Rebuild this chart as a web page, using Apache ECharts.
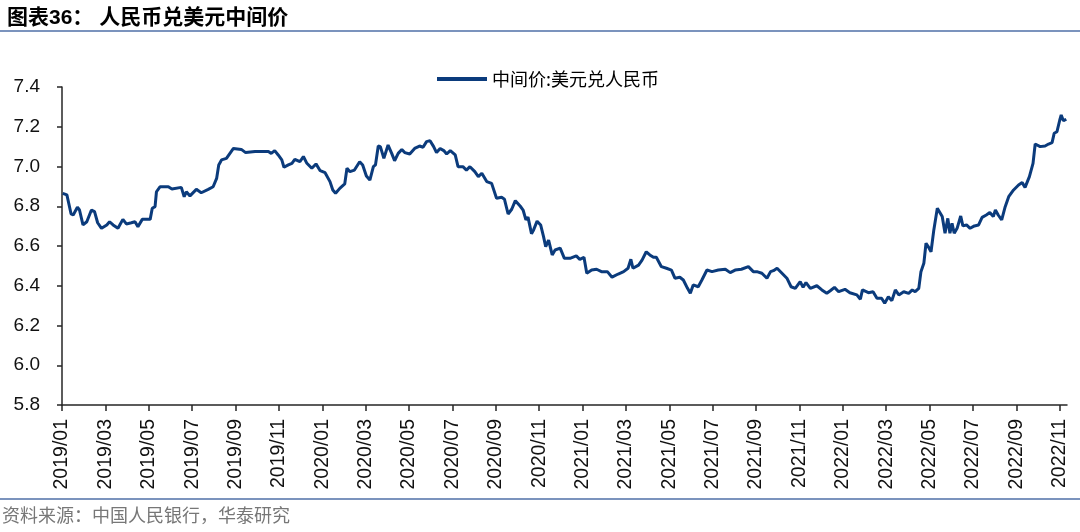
<!DOCTYPE html>
<html>
<head>
<meta charset="utf-8">
<script src="https://cdn.jsdelivr.net/npm/echarts@6/dist/echarts.min.js"></script>
<style>
html,body{margin:0;padding:0;background:#fff;}
#chart{width:1080px;height:532px;}
</style>
</head>
<body>
<div id="chart"></div>
<script>
// ---- data ----
const dates = [
'2019-01-02','2019-01-08','2019-01-10','2019-01-14','2019-01-17','2019-01-23','2019-01-26','2019-01-31',
'2019-02-05','2019-02-11','2019-02-15','2019-02-19','2019-02-24',
'2019-03-03','2019-03-07','2019-03-12','2019-03-19','2019-03-26','2019-03-31',
'2019-04-07','2019-04-12','2019-04-16','2019-04-22',
'2019-05-03','2019-05-06','2019-05-10','2019-05-12','2019-05-17','2019-05-29',
'2019-06-03','2019-06-16','2019-06-20','2019-06-23','2019-06-28',
'2019-07-07','2019-07-14','2019-07-24','2019-07-31',
'2019-08-05','2019-08-08','2019-08-12','2019-08-19','2019-08-24','2019-08-29',
'2019-09-09','2019-09-15','2019-09-28',
'2019-10-17','2019-10-21','2019-10-26','2019-10-31',
'2019-11-05','2019-11-08','2019-11-14','2019-11-19','2019-11-23','2019-11-30',
'2019-12-05','2019-12-10','2019-12-17','2019-12-23','2019-12-29',
'2020-01-05','2020-01-12','2020-01-16','2020-01-20','2020-01-26',
'2020-02-02','2020-02-05','2020-02-09','2020-02-15','2020-02-22','2020-02-26',
'2020-03-02','2020-03-07','2020-03-12','2020-03-15','2020-03-19','2020-03-22','2020-03-27',
'2020-04-02','2020-04-07','2020-04-11','2020-04-16','2020-04-21','2020-04-25',
'2020-05-02','2020-05-09','2020-05-16','2020-05-21','2020-05-26','2020-05-31',
'2020-06-05','2020-06-09','2020-06-14','2020-06-19','2020-06-23','2020-06-28',
'2020-07-05','2020-07-09','2020-07-16','2020-07-21','2020-07-26',
'2020-08-02','2020-08-07','2020-08-12','2020-08-19','2020-08-26',
'2020-09-02','2020-09-09','2020-09-13','2020-09-18','2020-09-23','2020-09-28',
'2020-10-05','2020-10-09','2020-10-13','2020-10-16','2020-10-21','2020-10-24','2020-10-29',
'2020-11-03','2020-11-07','2020-11-10','2020-11-14','2020-11-19','2020-11-23','2020-11-30',
'2020-12-06','2020-12-14','2020-12-23','2020-12-28',
'2021-01-03','2021-01-07','2021-01-14','2021-01-21','2021-01-28',
'2021-02-05','2021-02-11','2021-02-19','2021-02-26',
'2021-03-04','2021-03-08','2021-03-11','2021-03-19','2021-03-24','2021-03-30',
'2021-04-04','2021-04-09','2021-04-13','2021-04-20','2021-04-27',
'2021-05-04','2021-05-09','2021-05-16','2021-05-21','2021-05-27','2021-05-31',
'2021-06-04','2021-06-11','2021-06-16','2021-06-23','2021-06-30',
'2021-07-09','2021-07-19','2021-07-26',
'2021-08-02','2021-08-11','2021-08-21','2021-08-28',
'2021-09-02','2021-09-09','2021-09-16','2021-09-21','2021-09-25','2021-09-30',
'2021-10-07','2021-10-14','2021-10-20','2021-10-26',
'2021-11-02','2021-11-06','2021-11-10','2021-11-16','2021-11-25',
'2021-12-02','2021-12-09','2021-12-14','2021-12-20','2021-12-26',
'2022-01-04','2022-01-11','2022-01-21','2022-01-26','2022-01-29',
'2022-02-06','2022-02-12','2022-02-17','2022-02-23','2022-02-27',
'2022-03-04','2022-03-09','2022-03-14','2022-03-19','2022-03-26',
'2022-04-02','2022-04-07','2022-04-11','2022-04-16','2022-04-19','2022-04-23','2022-04-26','2022-04-29',
'2022-05-03','2022-05-07','2022-05-12','2022-05-14','2022-05-19','2022-05-23','2022-05-27','2022-05-30',
'2022-06-02','2022-06-05','2022-06-09','2022-06-14','2022-06-17','2022-06-22','2022-06-27',
'2022-07-03','2022-07-09','2022-07-14','2022-07-20','2022-07-25','2022-07-30',
'2022-08-02','2022-08-06','2022-08-11','2022-08-16','2022-08-21','2022-08-28',
'2022-09-04','2022-09-09','2022-09-13','2022-09-19','2022-09-24','2022-09-27',
'2022-10-04','2022-10-11','2022-10-16','2022-10-21','2022-10-24','2022-10-28',
'2022-11-01','2022-11-03','2022-11-06','2022-11-10'
];
const midRate = [
6.865,6.857,6.848,6.761,6.756,6.795,6.781,6.706,
6.722,6.781,6.773,6.717,6.689,
6.706,6.722,6.706,6.689,6.734,6.711,
6.717,6.722,6.697,6.734,
6.734,6.790,6.798,6.873,6.898,6.898,
6.887,6.895,6.848,6.873,6.852,
6.885,6.868,6.885,6.898,
6.940,7.008,7.033,7.041,7.066,7.091,
7.086,7.070,7.075,
7.075,7.066,7.080,7.058,
7.033,6.996,7.008,7.016,7.036,7.024,
7.050,7.016,6.991,7.013,6.979,
6.969,6.924,6.882,6.865,6.890,
6.912,6.991,6.974,6.982,7.024,7.008,
6.952,6.932,6.999,7.008,7.103,7.100,7.041,
7.108,7.066,7.029,7.066,7.086,7.070,
7.063,7.091,7.103,7.097,7.125,7.130,
7.100,7.070,7.091,7.080,7.063,7.080,
7.058,6.999,6.999,6.982,6.999,
6.974,6.949,6.966,6.924,6.915,
6.840,6.845,6.835,6.761,6.785,6.828,
6.800,6.781,6.731,6.745,6.662,6.681,6.725,
6.706,6.647,6.597,6.630,6.555,6.580,6.589,
6.538,6.538,6.550,6.533,
6.543,6.463,6.479,6.483,6.471,
6.471,6.443,6.459,6.471,
6.488,6.533,6.488,6.504,6.529,6.571,
6.555,6.543,6.543,6.496,6.488,
6.479,6.438,6.443,6.429,6.387,6.362,
6.404,6.395,6.429,6.479,6.471,
6.479,6.483,6.466,
6.479,6.483,6.496,6.471,
6.471,6.463,6.438,6.471,6.476,6.488,
6.463,6.438,6.395,6.387,
6.421,6.392,6.416,6.387,6.400,
6.379,6.362,6.375,6.392,6.370,
6.382,6.365,6.354,6.332,6.379,
6.365,6.370,6.337,6.337,6.312,
6.345,6.325,6.379,6.354,6.370,
6.362,6.379,6.370,6.387,6.471,6.513,6.614,6.597,
6.571,6.681,6.790,6.795,6.748,6.664,6.739,6.664,
6.714,6.664,6.689,6.751,6.701,6.706,6.689,
6.701,6.706,6.744,6.756,6.768,6.748,
6.781,6.756,6.731,6.798,6.848,6.882,
6.907,6.919,6.895,6.949,7.016,7.113,
7.100,7.103,7.113,7.120,7.167,7.175,
7.234,7.259,7.230,7.238
];
const seriesName = '中间价:美元兑人民币';
const yTicks = [5.8, 6.0, 6.2, 6.4, 6.6, 6.8, 7.0, 7.2, 7.4];
const xEnd = '2022-11-11';  // right end of axis
const titleText = '图表36： 人民币兑美元中间价';
const sourceText = '资料来源：中国人民银行，华泰研究';

// ---- helpers ----
function monthIndex(s) {
  const p = s.split('-').map(Number);
  const y = p[0], m = p[1], d = p[2] || 1;
  const dim = new Date(y, m, 0).getDate();
  return (y - 2019) * 12 + (m - 1) + (d - 1) / dim;
}
const seriesData = dates.map((d, i) => [monthIndex(d), midRate[i]]);
const xMax = monthIndex(xEnd);
const xTickVals = [];
for (let v = 0; v <= xMax; v += 2) xTickVals.push(v);
function monthLabel(v) {
  const y = 2019 + Math.floor(Math.round(v) / 12);
  const m = Math.round(v) % 12 + 1;
  return y + '/' + (m < 10 ? '0' + m : m);
}

const chart = echarts.init(document.getElementById('chart'), null, {renderer: 'canvas'});
chart.setOption({
  animation: false,
  backgroundColor: '#fff',
  textStyle: {fontFamily: '"Liberation Sans", Arial, "Noto Sans CJK SC", sans-serif'},
  title: {
    text: titleText,
    left: 2, top: 3,
    textStyle: {fontSize: 21, fontWeight: 'bold', color: '#000',
      fontFamily: '"Liberation Sans", "Noto Sans CJK SC", sans-serif'}
  },
  legend: {
    data: [seriesName],
    left: 432, top: 65,
    icon: 'rect', itemWidth: 50, itemHeight: 4, itemGap: 10,
    textStyle: {fontSize: 18, color: '#000', fontFamily: '"Noto Sans CJK SC", sans-serif'}
  },
  grid: {left: 62, right: 13, top: 87, bottom: 127, containLabel: false},
  xAxis: {
    type: 'value', min: 0, max: xMax,
    splitLine: {show: false},
    axisLine: {lineStyle: {color: '#262626', width: 1.5}},
    axisTick: {show: true, length: 6, customValues: xTickVals, lineStyle: {color: '#262626', width: 1.5}},
    axisLabel: {rotate: 90, margin: 14, fontSize: 19.5, color: '#111',
      customValues: xTickVals, formatter: monthLabel}
  },
  yAxis: {
    type: 'value', min: yTicks[0], max: yTicks[yTicks.length - 1], interval: 0.2,
    splitLine: {show: false},
    axisLine: {show: true, lineStyle: {color: '#262626', width: 1.5}},
    axisTick: {show: true, length: 5, lineStyle: {color: '#262626', width: 1.5}},
    axisLabel: {margin: 22, fontSize: 19, color: '#111', formatter: v => v.toFixed(1)}
  },
  graphic: [
    {type: 'line', shape: {x1: 0, y1: 31, x2: 1080, y2: 31}, style: {stroke: '#7b93bd', lineWidth: 2}},
    {type: 'line', shape: {x1: 0, y1: 499, x2: 1080, y2: 499}, style: {stroke: '#7b93bd', lineWidth: 2}},
    {type: 'text', left: 2, top: 506, style: {text: sourceText, fontSize: 18, fill: '#777',
      fontFamily: '"Noto Sans CJK SC", sans-serif'}}
  ],
  series: [{
    name: seriesName, type: 'line', data: seriesData,
    showSymbol: false, smooth: false,
    lineStyle: {color: '#0b3b7c', width: 3},
    itemStyle: {color: '#0b3b7c'}
  }]
});
</script>
</body>
</html>
